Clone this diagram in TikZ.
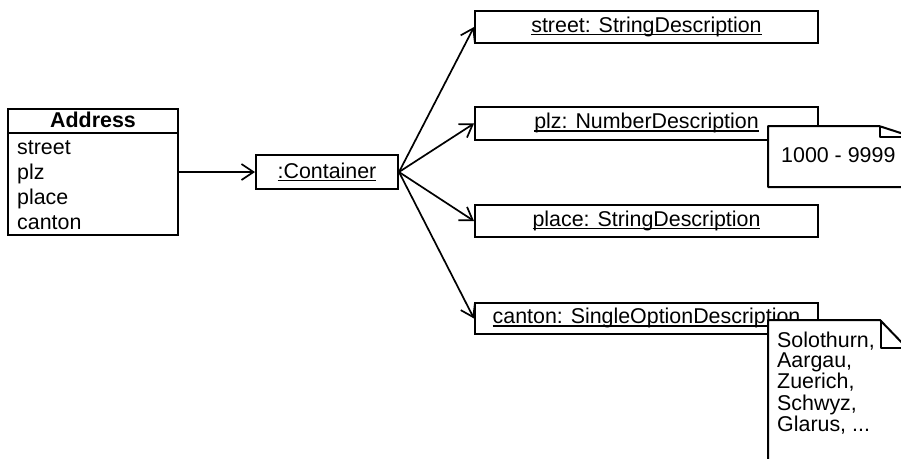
\documentclass[tikz,border=0pt]{standalone}
\usepackage{fontspec}
\setmainfont{Liberation Sans}
\usetikzlibrary{arrows.meta}
% underlined object name, rule drawn just under the baseline
\newcommand{\objul}[1]{\setbox0\hbox{#1}\rlap{\rule[-2.8pt]{\wd0}{1.1pt}}\box0}
\begin{document}
\begin{tikzpicture}[x=1pt,y=-1pt,
  font=\fontsize{21.4}{25}\selectfont,
  box/.style={draw,line width=2pt,inner sep=0pt},
  objbox/.style={box,minimum width=343pt,minimum height=32pt,text height=15pt,text depth=4.5pt},
  link/.style={line width=1.7pt,-{Straight Barb[length=12pt,width=16pt]}},
  note/.style={draw,fill=white,line width=2pt,line join=round},
  fold/.style={line width=1.7pt,line join=round}
]
\clip (0,0) rectangle (901,458);

% class box
\node[box,minimum width=170pt,minimum height=126pt] (addr) at (93,172) {};
\coordinate (hdr) at (0,133);
\draw[line width=1.8pt] (addr.west |- hdr) -- (addr.east |- hdr);
\node[anchor=base,font=\fontsize{21.4}{25}\selectfont\bfseries] (addrname) at (93,127) {Address};
\node[anchor=base west,inner sep=0pt] (addrattr) at (17,154)
  {\begin{tabular}[t]{@{}l@{}}street\\plz\\place\\canton\end{tabular}};

% container object
\node[box,minimum width=142pt,minimum height=34pt,text height=15pt,text depth=3pt] (cont) at (327,172) {\objul{:Container}};

% description objects
\node[objbox] (street) at (646.5,27) {\objul{street: StringDescription}};
\node[objbox,minimum height=33pt] (plz) at (646.5,123.5) {\objul{plz: NumberDescription}};
\node[objbox] (place) at (646.5,221) {\objul{place: StringDescription}};
\node[objbox,minimum height=31pt] (canton) at (646.5,318.5) {\objul{canton: SingleOptionDescription}};

% connectors
\draw[link] (addr.east) -- (cont.west);
\draw[link] (cont.east) -- (street.west);
\draw[link] (cont.east) -- (plz.west);
\draw[link] (cont.east) -- (place.west);
\draw[link] (cont.east) -- (canton.west);

% note on plz
\draw[note] (768,126) -- (879,126) -- (913,137) -- (913,187) -- (768,187) -- cycle;
\draw[fold] (880,126) -- (880,137) -- (913,137);
\node[anchor=base west,inner sep=0pt] (plznote) at (781,162.5) {1000 - 9999};

% note on canton
\draw[note] (768,320) -- (880,320) -- (907,348) -- (907,470) -- (768,470) -- cycle;
\draw[fold] (881,320) -- (881,348) -- (907,348);
\node[anchor=base west,inner sep=0pt,font=\fontsize{21.4}{19.5}\selectfont] (cantonnote) at (777,347)
  {\begin{tabular}[t]{@{}l@{}}Solothurn,\\Aargau,\\Zuerich,\\Schwyz,\\Glarus, ...\end{tabular}};
\end{tikzpicture}
\end{document}
